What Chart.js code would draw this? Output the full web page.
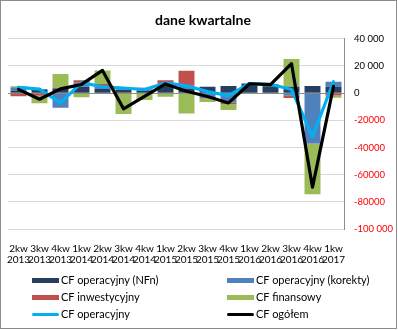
<!DOCTYPE html>
<html>
<head>
<meta charset="utf-8">
<script src="https://cdn.jsdelivr.net/npm/chart.js@4/dist/chart.umd.min.js"></script>
<style>
body{margin:0;background:#fff;}
#wrap{position:relative;width:398px;height:330px;}
#frame{position:absolute;left:0;top:0;width:397px;height:329px;box-sizing:border-box;border:1px solid #8c8c8c;pointer-events:none;}
#legend{position:absolute;left:0;top:0;font:11px Lato, sans-serif;color:#000;}
.item{position:absolute;height:14px;line-height:14px;white-space:nowrap;}
.sw{position:absolute;left:0;width:27px;}
.txt{position:absolute;left:29px;top:0;}
</style>
</head>
<body>
<div id="wrap">
  <canvas id="chart" width="398" height="330"></canvas>
  <div id="legend"></div>
  <div id="frame"></div>
</div>
<script>
// kwartaly
const quarters = ['2kw','3kw','4kw','1kw','2kw','3kw','4kw','1kw','2kw','3kw','4kw','1kw','2kw','3kw','4kw','1kw'];
const years = ['2013','2013','2013','2014','2014','2014','2014','2015','2015','2015','2015','2016','2016','2016','2016','2017'];

// przeplywy
const cfNfn     = [2000, 2500, 3500, 4700, 3500, 2500, 1500, 6000, 3000, 4700, 5200, 6700, 5000, 4700, 5200, 4700];
const cfKorekty = [2300, 500, -10700, 3000, 1200, 1300, 1200, 1500, 2400, -3600, -7000, 400, 1500, -2000, -37000, 3700];
const cfInw     = [-2200, -2000, 500, 1700, 2000, -300, 1200, 1900, 11000, -300, -1000, 400, 300, -1500, -300, -1700];
const cfFin     = [700, -5500, 10100, -3000, 10000, -15000, -5000, -2600, -15000, -2700, -4400, -600, -500, 20500, -37100, -1700];
const cfOper    = [4300, 3000, -7200, 7700, 4700, 3800, 2700, 7500, 5400, 1100, -1800, 7100, 6500, 2700, -31800, 8400];
const cfTotal   = [2800, -4500, 3100, 6400, 16700, -11500, -2300, 6800, 1400, -2500, -7200, 6900, 6300, 21700, -69200, 5000];

const yTicks = [40000, 20000, 0, -20000, -40000, -60000, -80000, -100000];
const yTickLabels = ['40 000', '20 000', '0', '-20000', '-40000', '-60000', '-80000', '-100 000'];

const seriesNames = ['CF operacyjny (NFn)', 'CF operacyjny (korekty)', 'CF inwestycyjny', 'CF finansowy', 'CF operacyjny', 'CF ogółem'];
const seriesColors = ['#243f60', '#4f81bd', '#c0504d', '#9bbb59', '#00b0f0', '#000000'];

const FONT = 'Lato, sans-serif';

function barSet(i, data) {
    return {
        label: seriesNames[i],
        data: data,
        backgroundColor: seriesColors[i],
        stack: 'bars',
        order: 2,
        categoryPercentage: 1,
        barPercentage: 0.76
    };
}
function lineSet(i, data, order) {
    return {
        type: 'line',
        label: seriesNames[i],
        data: data,
        borderColor: seriesColors[i],
        backgroundColor: seriesColors[i],
        borderWidth: 3.2,
        pointRadius: 0,
        tension: 0,
        borderJoinStyle: 'round',
        borderCapStyle: 'round',
        stack: 'line' + i,
        order: order
    };
}

let ctx = document.getElementById('chart').getContext('2d');
let chart = new Chart(ctx, {
    type: 'bar',
    data: {
        labels: quarters.map((q, i) => [q, years[i]]),
        datasets: [
            barSet(0, cfNfn),
            barSet(1, cfKorekty),
            barSet(2, cfInw),
            barSet(3, cfFin),
            lineSet(4, cfOper, 1),
            lineSet(5, cfTotal, 0)
        ]
    },
    options: {
        responsive: false,
        animation: false,
        layout: { padding: { left: 8, right: 0, top: 0, bottom: 59 } },
        plugins: {
            legend: { display: false },
            tooltip: { enabled: false },
            title: {
                display: true,
                text: 'dane kwartalne',
                color: '#000',
                font: { family: FONT, size: 14, weight: 'bold' },
                padding: { top: 12, bottom: 10 }
            }
        },
        scales: {
            x: {
                stacked: true,
                grid: { display: false },
                border: { display: false },
                ticks: {
                    color: '#000',
                    font: { family: FONT, size: 10, lineHeight: 1.1 },
                    maxRotation: 0,
                    minRotation: 0,
                    autoSkip: false,
                    padding: 6
                }
            },
            y: {
                position: 'right',
                stacked: true,
                min: -100000,
                max: 40000,
                afterBuildTicks: (scale) => { scale.ticks = yTicks.map(v => ({ value: v })); },
                afterFit: (scale) => { scale.width = 54; },
                ticks: {
                    padding: 10,
                    font: { family: FONT, size: 9.5 },
                    color: (c) => (c.tick && c.tick.value < 0) ? '#ff0000' : '#000',
                    callback: (v) => yTickLabels[yTicks.indexOf(v)]
                },
                grid: {
                    drawTicks: false,
                    color: (c) => (c.tick && c.tick.value === 0) ? '#8c8c8c' : '#d9d9d9'
                },
                border: { display: true, color: '#8c8c8c' }
            }
        }
    }
});

// legenda 2 kolumny x 3 wiersze
let legend = document.getElementById('legend');
const legX = [32, 227];
const legY = [280, 297, 314];
seriesNames.forEach((name, i) => {
    let item = document.createElement('div');
    item.className = 'item';
    item.style.left = legX[i % 2] + 'px';
    item.style.top = (legY[Math.floor(i / 2)] - 7) + 'px';
    let sw = document.createElement('div');
    sw.className = 'sw';
    sw.style.background = seriesColors[i];
    let h = i < 4 ? 5 : 3;
    sw.style.height = h + 'px';
    sw.style.top = (7 - h / 2) + 'px';
    if (i >= 4) sw.style.borderRadius = '2px';
    let t = document.createElement('span');
    t.className = 'txt';
    t.textContent = name;
    item.appendChild(sw);
    item.appendChild(t);
    legend.appendChild(item);
});
</script>
</body>
</html>
